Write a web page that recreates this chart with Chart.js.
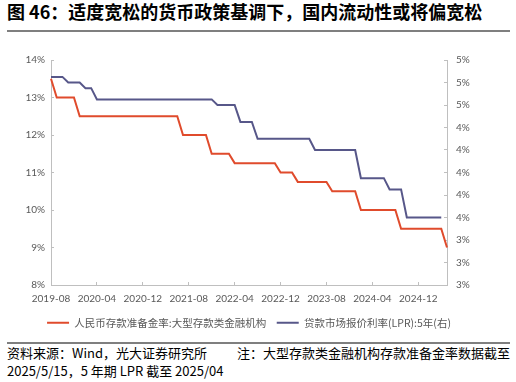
<!DOCTYPE html>
<html lang="zh-CN">
<head>
<meta charset="UTF-8">
<title>图 46 存款准备金率与 LPR</title>
<script src="https://cdn.jsdelivr.net/npm/chart.js"></script>
<style>
    html, body { margin: 0; padding: 0; background: #fff; }
    body { width: 516px; height: 382px; position: relative; overflow: hidden;
           font-family: "Noto Sans CJK SC", "Noto Sans", sans-serif; color: #000; }
    .title { position: absolute; left: 7px; top: 0; font-size: 18px; line-height: 22px; font-weight: 700; white-space: nowrap; }
    .rule { position: absolute; left: 7px; width: 503px; background: #7f7f7f; }
    .note { position: absolute; font-size: 13px; line-height: 18px; white-space: nowrap; }
    #wrap { position: absolute; left: 0; top: 36px; width: 516px; height: 302px; }
</style>
</head>
<body>
<div class="title">图 46：适度宽松的货币政策基调下，国内流动性或将偏宽松</div>
<div class="rule" style="top:30px;height:2px;"></div>

<div id="wrap"><canvas id="chart" width="516" height="302"></canvas></div>

<div class="rule" style="top:342px;height:2px;"></div>
<div class="note" style="left:7px;top:344px;">资料来源：Wind，光大证券研究所</div>
<div class="note" style="right:6px;top:344px;">注：大型存款类金融机构存款准备金率数据截至</div>
<div class="note" style="left:7px;top:362px;">2025/5/15，5 年期 LPR 截至 2025/04</div>

<script>
    // monthly categories
    const months = [
        '2019-08','2019-09','2019-10','2019-11','2019-12',
        '2020-01','2020-02','2020-03','2020-04','2020-05','2020-06','2020-07','2020-08','2020-09','2020-10','2020-11','2020-12',
        '2021-01','2021-02','2021-03','2021-04','2021-05','2021-06','2021-07','2021-08','2021-09','2021-10','2021-11','2021-12',
        '2022-01','2022-02','2022-03','2022-04','2022-05','2022-06','2022-07','2022-08','2022-09','2022-10','2022-11','2022-12',
        '2023-01','2023-02','2023-03','2023-04','2023-05','2023-06','2023-07','2023-08','2023-09','2023-10','2023-11','2023-12',
        '2024-01','2024-02','2024-03','2024-04','2024-05','2024-06','2024-07','2024-08','2024-09','2024-10','2024-11','2024-12',
        '2025-01','2025-02','2025-03','2025-04','2025-05'
    ];

    // 人民币存款准备金率:大型存款类金融机构 (%)
    const rrrLarge = [
        13.5, 13.0, 13.0, 13.0, 13.0,
        12.5, 12.5, 12.5, 12.5, 12.5, 12.5, 12.5, 12.5, 12.5, 12.5, 12.5, 12.5,
        12.5, 12.5, 12.5, 12.5, 12.5, 12.5, 12.0, 12.0, 12.0, 12.0, 12.0, 11.5,
        11.5, 11.5, 11.5, 11.25, 11.25, 11.25, 11.25, 11.25, 11.25, 11.25, 11.25, 11.0,
        11.0, 11.0, 10.75, 10.75, 10.75, 10.75, 10.75, 10.75, 10.5, 10.5, 10.5, 10.5,
        10.5, 10.0, 10.0, 10.0, 10.0, 10.0, 10.0, 10.0, 9.5, 9.5, 9.5, 9.5,
        9.5, 9.5, 9.5, 9.5, 9.0
    ];

    // 贷款市场报价利率(LPR):5年 (%), right axis
    const lpr5y = [
        4.85, 4.85, 4.85, 4.80, 4.80,
        4.80, 4.75, 4.75, 4.65, 4.65, 4.65, 4.65, 4.65, 4.65, 4.65, 4.65, 4.65,
        4.65, 4.65, 4.65, 4.65, 4.65, 4.65, 4.65, 4.65, 4.65, 4.65, 4.65, 4.65,
        4.60, 4.60, 4.60, 4.60, 4.45, 4.45, 4.45, 4.30, 4.30, 4.30, 4.30, 4.30,
        4.30, 4.30, 4.30, 4.30, 4.30, 4.20, 4.20, 4.20, 4.20, 4.20, 4.20, 4.20,
        4.20, 3.95, 3.95, 3.95, 3.95, 3.95, 3.85, 3.85, 3.85, 3.60, 3.60, 3.60,
        3.60, 3.60, 3.60, 3.60, null
    ];

    const seriesNames = ['人民币存款准备金率:大型存款类金融机构', '贷款市场报价利率(LPR):5年(右)'];
    const labelStep = 8;

    const axisGray = '#BFBFBF';
    const textGray = '#595959';
    const tickFont = { family: 'Lato, "Noto Sans", sans-serif', size: 10 };

    new Chart(document.getElementById('chart'), {
        type: 'line',
        data: {
            labels: months,
            datasets: [{
                label: seriesNames[0],
                data: rrrLarge,
                yAxisID: 'y',
                borderColor: '#E04B2C',
                backgroundColor: '#E04B2C',
                borderWidth: 2,
                pointRadius: 0,
                tension: 0
            }, {
                label: seriesNames[1],
                data: lpr5y,
                yAxisID: 'y1',
                borderColor: '#575789',
                backgroundColor: '#575789',
                borderWidth: 2,
                pointRadius: 0,
                tension: 0
            }]
        },
        options: {
            responsive: false,
            animation: false,
            devicePixelRatio: 1,
            layout: { padding: { top: 24, left: 0, right: 18, bottom: 0 } },
            plugins: {
                tooltip: { enabled: false },
                legend: {
                    position: 'bottom',
                    labels: {
                        usePointStyle: true,
                        pointStyle: 'line',
                        pointStyleWidth: 22,
                        padding: 10.5,
                        color: textGray,
                        font: { family: '"Noto Sans CJK SC", sans-serif', size: 10.5 }
                    }
                }
            },
            scales: {
                x: {
                    offset: false,
                    afterFit: s => { s.height = 22; },
                    border: { display: true, color: axisGray, width: 1 },
                    grid: { drawOnChartArea: false, drawTicks: true, tickLength: -3, color: axisGray },
                    ticks: {
                        autoSkip: false, maxRotation: 0, padding: 11,
                        color: textGray, font: tickFont,
                        callback: (v, i) => i % labelStep === 0 ? months[i] : null
                    }
                },
                y: {
                    position: 'left',
                    min: 8, max: 14,
                    afterFit: s => { s.width = 51; },
                    border: { display: true, color: axisGray, width: 1 },
                    grid: { drawOnChartArea: false, drawTicks: true, tickLength: -3, color: axisGray },
                    ticks: { stepSize: 1, padding: 9, color: textGray, font: tickFont, callback: v => v + '%' }
                },
                y1: {
                    position: 'right',
                    min: 3, max: 5,
                    afterFit: s => { s.width = 51; },
                    border: { display: true, color: axisGray, width: 1 },
                    grid: { drawOnChartArea: false, drawTicks: true, tickLength: -3, color: axisGray },
                    ticks: { stepSize: 0.2, padding: 12, color: textGray, font: tickFont, callback: v => Math.round(v) + '%' }
                }
            }
        }
    });
</script>
</body>
</html>
